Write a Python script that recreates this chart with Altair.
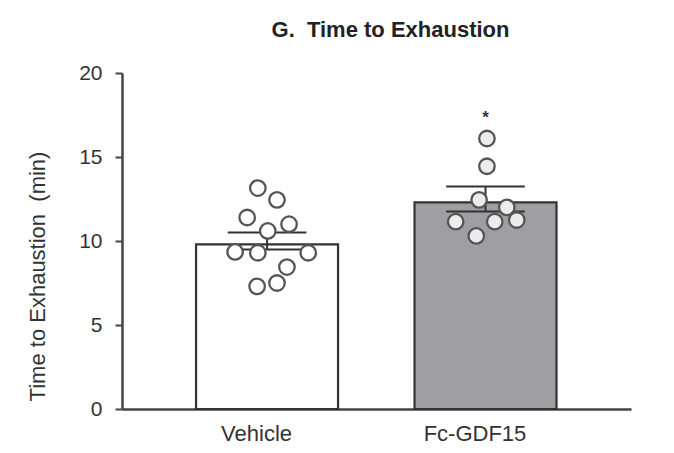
import altair as alt
import pandas as pd

# Group summary: bar heights and error-bar ends (min)
groups = ["Vehicle", "Fc-GDF15"]
means = [9.8, 12.3]
err_lo = [9.5, 11.75]
err_hi = [10.5, 13.25]

# Individual animals; jitter is the horizontal spread as a fraction of half a bar
vehicle_vals = [13.15, 12.45, 11.4, 11.0, 10.6, 9.35, 9.3, 9.3, 8.45, 7.5, 7.3]
vehicle_jit = [-0.13, 0.14, -0.28, 0.31, 0.01, -0.45, -0.13, 0.58, 0.28, 0.14, -0.14]
gdf_vals = [16.1, 14.45, 12.45, 12.0, 11.15, 11.15, 11.25, 10.3]
gdf_jit = [0.02, 0.02, -0.09, 0.30, -0.42, 0.13, 0.44, -0.13]

y_ticks = [0, 5, 10, 15, 20]
sig_mark = "*"
sig_level = 17.3

FONT = "Liberation Sans"
AX = "#444444"
TXT = "#333333"

BAR_HALF = 0.325   # half bar width in group units
CAP_HALF = 0.18    # half error-bar cap width in group units

idx = list(range(len(groups)))
bars_df = pd.DataFrame({
    "group": groups, "i": idx, "mean": means, "lo": err_lo, "hi": err_hi,
    "left": [i - BAR_HALF for i in idx], "right": [i + BAR_HALF for i in idx],
    "cl": [i - CAP_HALF for i in idx], "cr": [i + CAP_HALF for i in idx],
})

def group_points(i, vals, jit):
    return pd.DataFrame({"x": [i + j * BAR_HALF for j in jit], "value": vals})

veh_df = group_points(0, vehicle_vals, vehicle_jit)
gdf_df = group_points(1, gdf_vals, gdf_jit)

W, H = 509, 336
y_title = "Time to Exhaustion\u00a0 (min)"
y_scale = alt.Scale(domain=[0, 20], nice=False, zero=True)
x_scale = alt.Scale(domain=[-0.664, 1.666], nice=False, zero=False)

y_axis = alt.Axis(
    values=y_ticks, grid=False, tickSize=7, tickWidth=2, tickColor=AX,
    domainColor=AX, domainWidth=2.5, labelFontSize=21, labelColor=TXT,
    labelPadding=13, titleFontSize=22, titleFontWeight="normal",
    titleColor=TXT, titleX=-85, titleY=203, titleAngle=-90,
    titleAlign="center", titleBaseline="middle",
)
label_expr = "datum.value == 0 ? '" + groups[0] + "' : '" + groups[1] + "'"
x_axis = alt.Axis(
    title=None, values=idx, labelExpr=label_expr, labelAngle=0, ticks=False,
    grid=False, domainColor=AX, domainWidth=2.5, labelFontSize=22,
    labelColor=TXT, labelPadding=14, labelFlush=False, labelOffset=-11,
)

bars = alt.Chart(bars_df).mark_bar(stroke="#333333", strokeWidth=2.2).encode(
    x=alt.X("left:Q", scale=x_scale, axis=x_axis),
    x2="right:Q",
    y=alt.Y("mean:Q", scale=y_scale, axis=y_axis, title=y_title),
    y2=alt.datum(0),
    fill=alt.Fill("group:N", scale=alt.Scale(domain=groups, range=["#ffffff", "#9f9fa3"]), legend=None),
)

stems = alt.Chart(bars_df).mark_rule(color="#333333", strokeWidth=2).encode(
    x=alt.X("i:Q", scale=x_scale),
    y=alt.Y("lo:Q", scale=y_scale, title=y_title),
    y2="hi:Q",
)
caps_hi = alt.Chart(bars_df).mark_rule(color="#333333", strokeWidth=2).encode(
    x=alt.X("cl:Q", scale=x_scale), x2="cr:Q",
    y=alt.Y("hi:Q", scale=y_scale, title=y_title),
)
caps_lo = alt.Chart(bars_df).mark_rule(color="#333333", strokeWidth=2).encode(
    x=alt.X("cl:Q", scale=x_scale), x2="cr:Q",
    y=alt.Y("lo:Q", scale=y_scale, title=y_title),
)

def dots(df, fill):
    return alt.Chart(df).mark_point(
        shape="circle", size=240, filled=True, fill=fill, stroke="#555555",
        strokeWidth=2.3, opacity=1,
    ).encode(
        x=alt.X("x:Q", scale=x_scale),
        y=alt.Y("value:Q", scale=y_scale, title=y_title),
    )

star = alt.Chart(pd.DataFrame({"i": [1], "y": [sig_level], "t": [sig_mark]})).mark_text(
    font=FONT, fontSize=17, fontWeight="bold", color="#333333", baseline="middle"
).encode(
    x=alt.X("i:Q", scale=x_scale),
    y=alt.Y("y:Q", scale=y_scale, title=y_title),
    text="t:N",
)

chart = alt.layer(
    bars, stems, caps_hi, caps_lo, dots(veh_df, "#ffffff"), dots(gdf_df, "#ececec"), star
).properties(
    width=W, height=H,
    title=alt.TitleParams("G.\u00a0 Time to Exhaustion", font=FONT, fontSize=22,
                          fontWeight="bold", color="#222222", anchor="middle",
                          dx=14, offset=20),
    autosize=alt.AutoSizeParams(type="none"),
    padding={"left": 122, "top": 73, "right": 43, "bottom": 44},
).configure(font=FONT).configure_view(stroke=None).configure_axis(
    labelFont=FONT, titleFont=FONT
)

chart.save("out.html", embed_options={"renderer": "svg", "actions": False})
